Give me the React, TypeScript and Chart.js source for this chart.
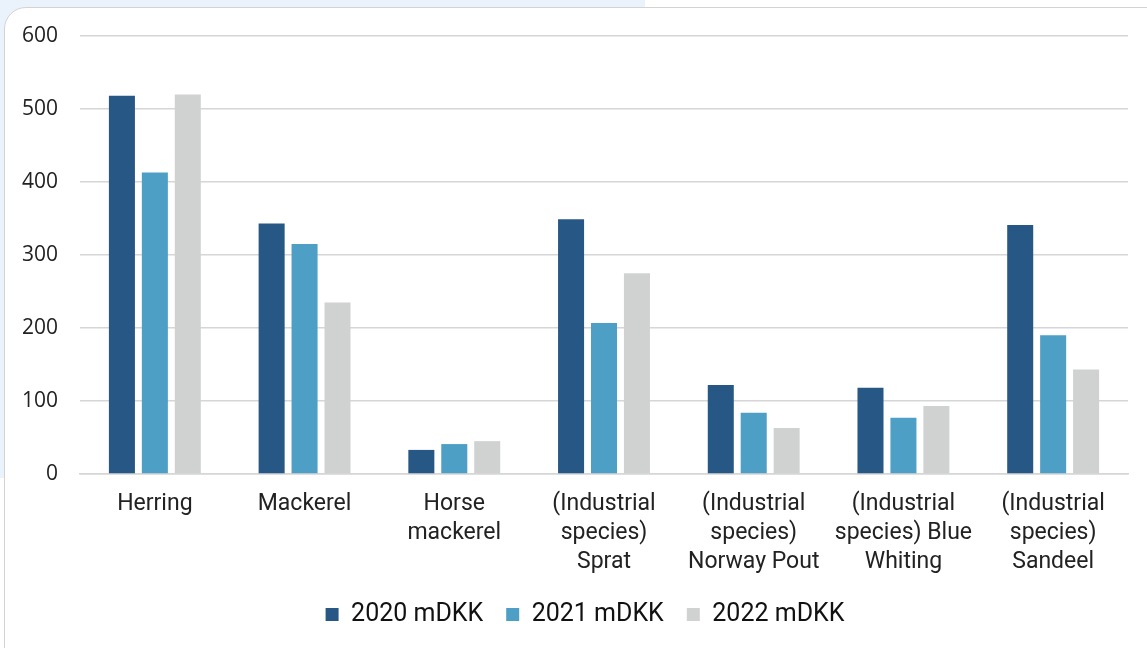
import React, { useEffect, useRef } from "react";
import { Chart, registerables } from "chart.js";

Chart.register(...registerables);

const categories: string[][] = [
  ["Herring"],
  ["Mackerel"],
  ["Horse", "mackerel"],
  ["(Industrial", "species)", "Sprat"],
  ["(Industrial", "species)", "Norway Pout"],
  ["(Industrial", "species) Blue", "Whiting"],
  ["(Industrial", "species)", "Sandeel"],
];
const seriesNames = ["2020 mDKK", "2021 mDKK", "2022 mDKK"];
const values2020 = [518, 343, 33, 349, 122, 118, 341];
const values2021 = [413, 315, 41, 207, 84, 77, 190];
const values2022 = [520, 235, 45, 275, 63, 93, 143];
const seriesColors = ["#275785", "#4e9fc6", "#d0d2d2"];
const yMin = 0;
const yMax = 600;
const yStep = 100;

const legendShift = {
  id: "legendShift",
  beforeDraw(chart: any) {
    const l = chart.legend;
    if (l) {
      l.left = 42;
    }
  },
};

export default function App() {
  const canvasRef = useRef<HTMLCanvasElement | null>(null);

  useEffect(() => {
    if (!canvasRef.current) return;
    const chart = new Chart(canvasRef.current, {
      type: "bar",
      data: {
        labels: categories,
        datasets: [values2020, values2021, values2022].map((d, i) => ({
          label: seriesNames[i],
          data: d,
          backgroundColor: seriesColors[i],
          borderWidth: 0,
          categoryPercentage: 0.66,
          barPercentage: 0.79,
        })),
      },
      plugins: [legendShift],
      options: {
        responsive: false,
        animation: false,
        layout: { padding: { top: 36, right: 19, bottom: 11, left: 0 } },
        plugins: {
          tooltip: { enabled: false },
          legend: {
            position: "bottom",
            labels: {
              boxWidth: 13,
              boxHeight: 13,
              padding: 23,
              color: "#111",
              font: { family: "Roboto", size: 25 },
            },
          },
        },
        scales: {
          x: {
            grid: { display: false },
            border: { display: true, color: "#d6d6d6", width: 1.5 },
            ticks: {
              color: "#222",
              padding: 8,
              maxRotation: 0,
              autoSkip: false,
              font: { family: "Roboto", size: 23, lineHeight: 1.26 },
            },
            afterFit: (scale: any) => {
              scale.height = 105;
            },
          },
          y: {
            min: yMin,
            max: yMax,
            ticks: {
              stepSize: yStep,
              padding: 22,
              color: "#222",
              font: { family: "'Open Sans'", size: 21 },
            },
            grid: { color: "#d6d6d6", lineWidth: 1.5, drawTicks: false },
            border: { display: false },
            afterFit: (scale: any) => {
              scale.width = 80;
            },
          },
        },
      },
    });
    return () => chart.destroy();
  }, []);

  return (
    <div style={{ position: "absolute", left: 0, top: 0, width: 1147, height: 648, overflow: "hidden", background: "#ffffff" }}>
      <div style={{ position: "absolute", left: 0, top: 0, width: 645, height: 478, background: "#eaf3fb" }} />
      <div
        style={{
          position: "absolute",
          left: 4,
          top: 7,
          width: 1170,
          height: 670,
          background: "#ffffff",
          border: "1.5px solid #d3d3d3",
          borderRadius: 22,
          boxSizing: "border-box",
        }}
      />
      <canvas ref={canvasRef} width={1147} height={648} style={{ position: "absolute", left: 0, top: 0 }} />
    </div>
  );
}
